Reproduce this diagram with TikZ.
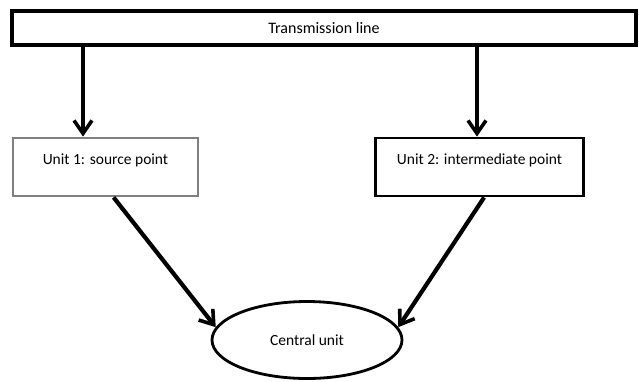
\documentclass[tikz,border=0pt]{standalone}
\usepackage{fontspec}
\setmainfont{Carlito}
\usetikzlibrary{arrows.meta,shapes.geometric}

\tikzset{
  box/.style={draw, line width=2.8pt, inner sep=0pt, minimum width=185pt,
    text height=26pt, text depth=32pt, font=\fontsize{15.5}{17}\selectfont},
  flow/.style={line width=4.2pt, -{Straight Barb[length=13pt,width=18pt,line width=3.6pt]}}
}

\begin{document}
\begin{tikzpicture}[x=1pt,y=-1pt]
\useasboundingbox (0,0) rectangle (639,381);

%%%%%%%%%%%%%-------------boxes
\node[draw, line width=3.2pt, minimum width=624pt, minimum height=34pt,
  font=\fontsize{16}{18}\selectfont] (tl) at (324,28) {Transmission line};
\node[box, draw=gray] (u1) at (105.5,167) {Unit 1: source point};
\node[box, minimum width=208pt] (u2) at (479.5,167) {Unit 2: intermediate point};
\node[ellipse, draw, line width=2.8pt, minimum width=190pt, minimum height=77pt,
  font=\fontsize{15.5}{17}\selectfont] (cu) at (307,340) {Central unit};

%%%%%%%%%%%%%-------------arrows
\draw[flow] (tl.south -| 83,0) -- (u1.north -| 83,0);
\draw[flow] (tl.south -| 477,0) -- (u2.north -| 477,0);
\draw[flow] ([xshift=102pt]u1.south west) -- (cu.172);
\draw[flow] ([xshift=110pt]u2.south west) -- (cu.8);

\end{tikzpicture}
\end{document}
